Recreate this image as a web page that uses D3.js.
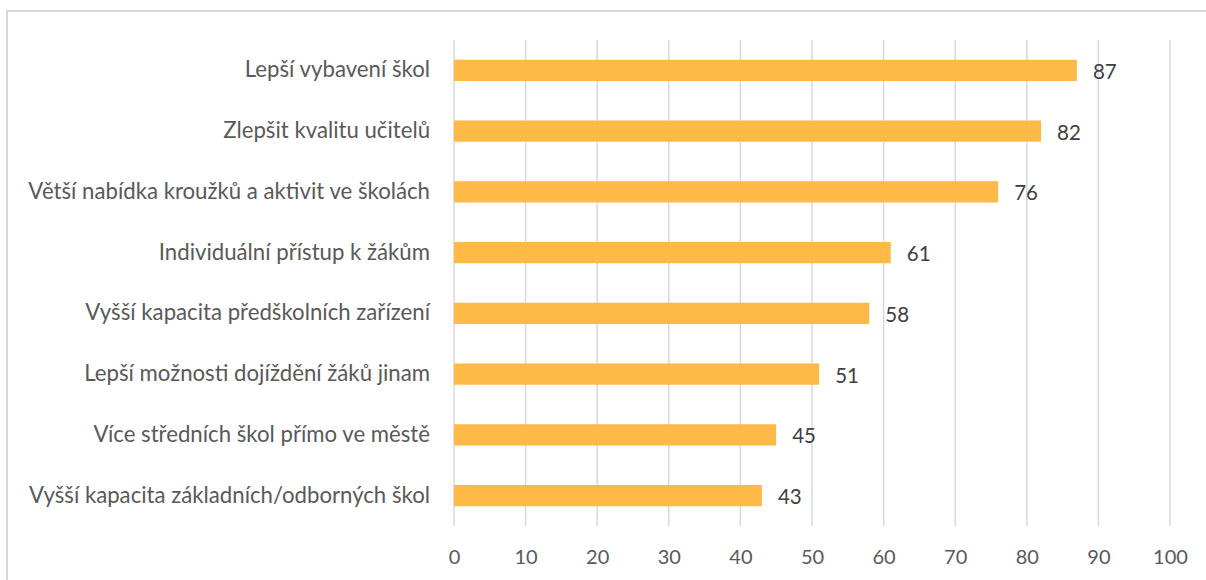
<!DOCTYPE html>
<html><head><meta charset="utf-8">
<script src="https://cdn.jsdelivr.net/npm/d3@7"></script>
<style>body{margin:0;background:#fff;overflow:hidden}svg{display:block}</style>
</head><body>
<svg id="c" width="1206" height="580"></svg>
<script>
const categories = [
  "Lepší vybavení škol",
  "Zlepšit kvalitu učitelů",
  "Větší nabídka kroužků a aktivit ve školách",
  "Individuální přístup k žákům",
  "Vyšší kapacita předškolních zařízení",
  "Lepší možnosti dojíždění žáků jinam",
  "Více středních škol přímo ve městě",
  "Vyšší kapacita základních/odborných škol"
];
const values = [87, 82, 76, 61, 58, 51, 45, 43];
const tickValues = [0,10,20,30,40,50,60,70,80,90,100];

const svg = d3.select("#c");
const font = "Lato, 'Noto Sans', sans-serif";
const M = {left:454, right:1170, top:40, bottom:526};

svg.append("rect").attr("x",7).attr("y",11).attr("width",1250).attr("height",620)
  .attr("fill","none").attr("stroke","#d9d9d9").attr("stroke-width",2);

const x = d3.scaleLinear().domain([0,100]).range([M.left, M.right]);
const y = d3.scaleBand().domain(categories).range([M.top, M.bottom]).paddingInner(0.65).paddingOuter(0.325);

// gridlines
svg.append("g").selectAll("line").data(tickValues).join("line")
  .attr("x1",d=>x(d)).attr("x2",d=>x(d)).attr("y1",M.top).attr("y2",M.bottom)
  .attr("stroke","#d9d9d9").attr("stroke-width",1.5);

// bars
svg.append("g").selectAll("rect").data(values).join("rect")
  .attr("x",x(0)).attr("y",(d,i)=>y(categories[i]))
  .attr("width",d=>x(d)-x(0)).attr("height",y.bandwidth())
  .attr("fill","#ffb947");

// value labels
svg.append("g").selectAll("text").data(values).join("text")
  .attr("x",d=>x(d)+16).attr("y",(d,i)=>y(categories[i])+y.bandwidth()/2+1)
  .attr("dy","0.36em").attr("font-family",font).attr("font-size",20.5)
  .attr("fill","#404040").text(d=>d);

// x axis tick labels
const xAxis = d3.axisBottom(x).tickValues(tickValues).tickSize(0).tickPadding(0);
const gx = svg.append("g").attr("transform",`translate(0,${M.bottom})`).call(xAxis);
gx.select(".domain").remove();
gx.selectAll("text").attr("font-family",font).attr("font-size",20).attr("fill","#595959")
  .attr("y",24).attr("dy","0.71em");

// category labels
const yAxis = d3.axisLeft(y).tickSize(0).tickPadding(24);
const gy = svg.append("g").attr("transform",`translate(${M.left},0)`).call(yAxis);
gy.select(".domain").remove();
gy.selectAll("text").attr("font-family",font).attr("font-size",22.2).attr("fill","#595959");
</script>
</body></html>
